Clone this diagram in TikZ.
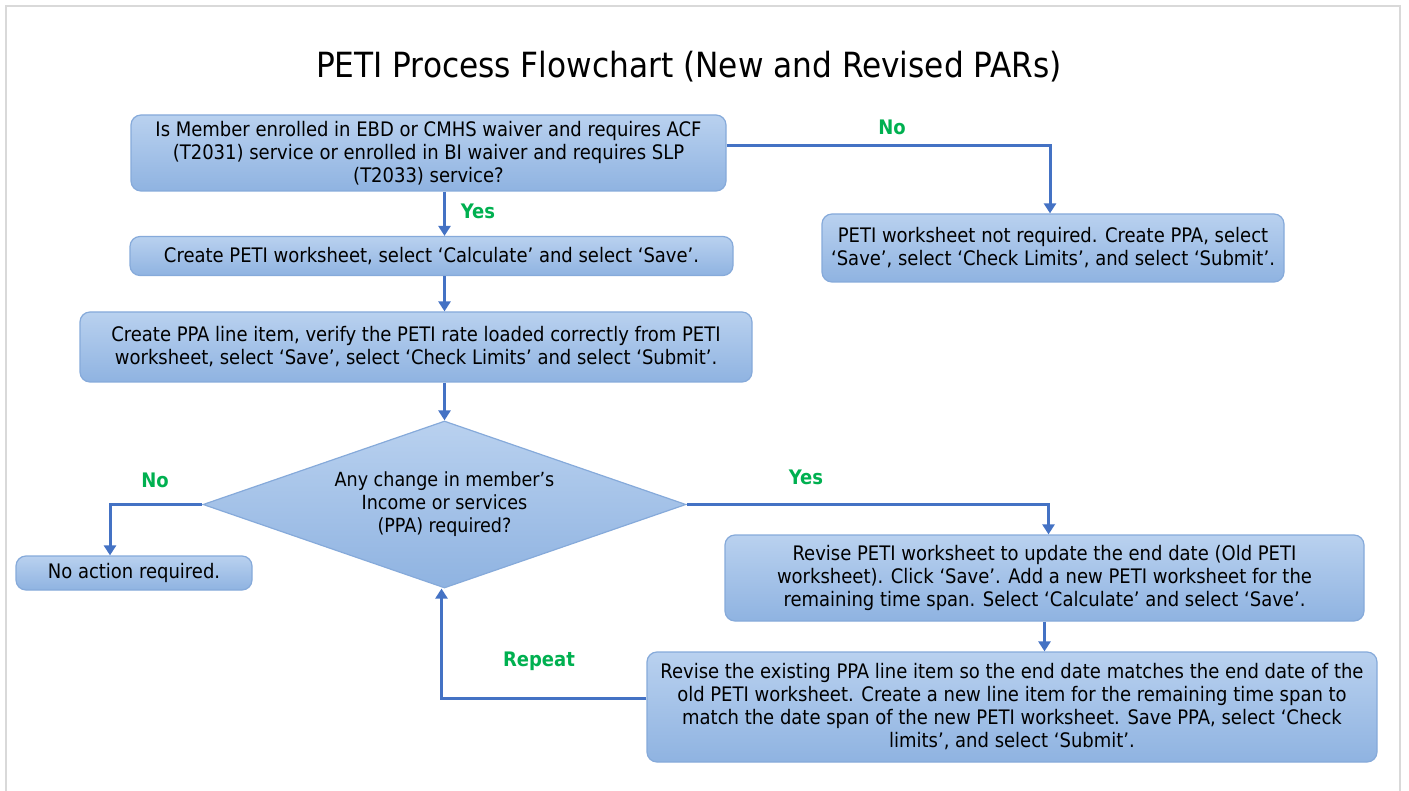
\documentclass[tikz,border=0pt]{standalone}
\usepackage{fontspec}
\setmainfont{DejaVu Sans Condensed}
\usepackage{tikz}
\usetikzlibrary{arrows.meta, shapes.geometric}
\usepackage{xcolor}

\definecolor{boxtop}{HTML}{B9D1EF}
\definecolor{boxbot}{HTML}{8FB3E1}
\definecolor{boxline}{HTML}{86AADA}
\definecolor{flowblue}{HTML}{4472C4}
\definecolor{okgreen}{HTML}{00B050}
\definecolor{framegray}{HTML}{D9D9D9}

\tikzset{
    procbox/.style={draw=boxline, line width=1.2pt, rounded corners=10pt, top color=boxtop, bottom color=boxbot, align=center, inner sep=0pt, font=\fontsize{20}{23}\selectfont},
    decision/.style={diamond, draw=boxline, line width=1.2pt, top color=boxtop, bottom color=boxbot, align=center, inner sep=0pt, aspect=2.9, font=\fontsize{19.5}{23}\selectfont},
    flow/.style={draw=flowblue, line width=3pt, -{Triangle[width=12pt,length=10pt]}},
    answer/.style={text=okgreen, font=\fontsize{20}{23}\selectfont\bfseries}
}

\begin{document}
\begin{tikzpicture}[x=1pt, y=-1pt]

        \useasboundingbox (0,0) rectangle (1409,791);

        \draw[framegray, line width=1.5pt] (6,800) -- (6,6) -- (1400,6) -- (1400,800);

        \node[font=\fontsize{34.7}{40}\selectfont] (title) at (689,67) {PETI Process Flowchart (New and Revised PARs)};

        \node[procbox, minimum width=595pt, minimum height=76pt] (ask) at (428.5,153) {Is Member enrolled in EBD or CMHS waiver and requires ACF\\(T2031) service or enrolled in BI waiver and requires SLP\\(T2033) service?};

        \node[procbox, minimum width=603pt, minimum height=39pt] (mkws) at (431.5,256) {Create PETI worksheet, select `Calculate' and select `Save'.};

        \node[procbox, minimum width=672pt, minimum height=70pt] (mkppa) at (416,347) {Create PPA line item, verify the PETI rate loaded correctly from PETI\\worksheet, select `Save', select `Check Limits' and select `Submit'.};

        \node[decision, minimum width=483pt, minimum height=167pt] (change) at (444.5,504.5) {Any change in member's\\Income or services\\(PPA) required?};

        \node[procbox, minimum width=236pt, minimum height=34pt] (noact) at (134,573) {No action required.};

        \node[procbox, minimum width=462pt, minimum height=68pt] (noreq) at (1053,248) {PETI worksheet not required. Create PPA, select\\`Save', select `Check Limits', and select `Submit'.};

        \node[procbox, minimum width=639pt, minimum height=86pt] (revws) at (1044.5,578) {Revise PETI worksheet to update the end date (Old PETI\\worksheet). Click `Save'. Add a new PETI worksheet for the\\remaining time span. Select `Calculate' and select `Save'.};

        \node[procbox, minimum width=730pt, minimum height=110pt] (revppa) at (1012,707) {Revise the existing PPA line item so the end date matches the end date of the\\old PETI worksheet. Create a new line item for the remaining time span to\\match the date span of the new PETI worksheet. Save PPA, select `Check\\limits', and select `Submit'.};

        % connectors
        \draw[flow] ([yshift=7pt]ask.east) -| ([xshift=-3pt]noreq.north);

        \draw[flow] (ask.south -| change.north) -- (mkws.north -| change.north);

        \draw[flow] (mkws.south -| change.north) -- (mkppa.north -| change.north);

        \draw[flow] (mkppa.south -| change.north) -- (change.north);

        \draw[flow] (change.west) -| ([xshift=-24pt]noact.north);

        \draw[flow] (change.east) -| ([xshift=4pt]revws.north);

        \draw[flow] (revws.south) -- (revws.south |- revppa.north);

        \draw[flow] ([yshift=9pt]revppa.west) -| ([xshift=-3pt]change.south);

        % answers
        \node[answer] (noA) at (892,127) {No};

        \node[answer] (yesA) at (478,211) {Yes};

        \node[answer] (noB) at (155,480) {No};

        \node[answer] (yesB) at (806,477) {Yes};

        \node[answer] (rep) at (539,661) {Repeat};
    \end{tikzpicture}
\end{document}
